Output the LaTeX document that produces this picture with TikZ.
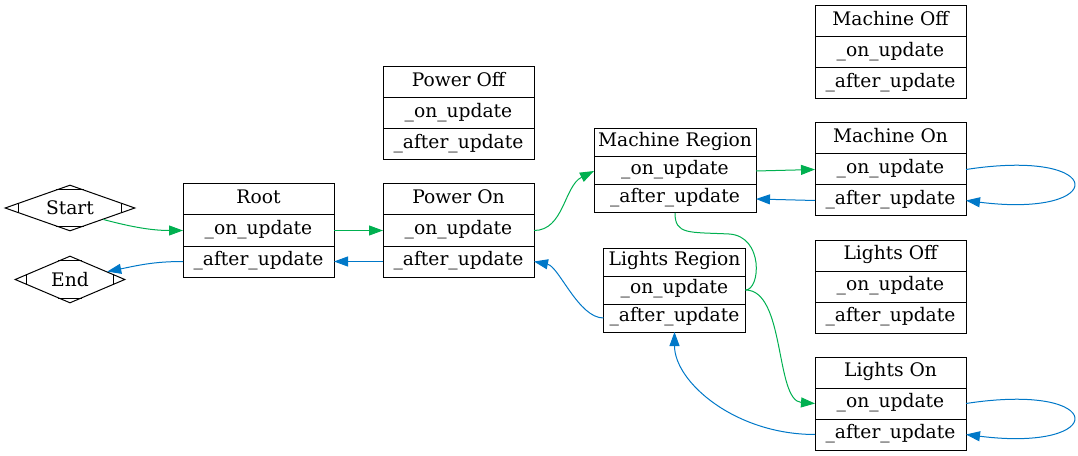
\documentclass[tikz,border=0pt]{standalone}
\usepackage{fontspec}
\setmainfont{DejaVu Serif}
\usetikzlibrary{positioning,calc,shapes.geometric,arrows.meta}
\definecolor{ongreen}{HTML}{00B050}
\definecolor{afterblue}{HTML}{0078C8}

\begin{document}
\begin{tikzpicture}[x=0.75pt, y=-0.75pt,
% Node styles
 cell/.style={draw, line width=0.75pt, font=\fontsize{14pt}{16pt}\selectfont,
 minimum width=113.25pt, minimum height=23.25pt, inner sep=0pt, outer sep=0pt,
 text height=0.75em, text depth=0.22em},
 region/.style={cell, minimum width=121.5pt, minimum height=21pt},
 lregion/.style={cell, minimum width=106.5pt, minimum height=21pt},
 term/.style={draw, diamond, line width=0.75pt, inner sep=0pt,
 font=\fontsize{14pt}{16pt}\selectfont},
% Edge styles
 onedge/.style={draw, ongreen, line width=0.75pt, -{Triangle[length=10.5pt,width=7.5pt]}},
 afteredge/.style={draw, afterblue, line width=0.75pt, -{Triangle[length=10.5pt,width=7.5pt]}}
]
\useasboundingbox (0,0) rectangle (1078,456);
% Start and end
\node[term, shape aspect=2.83, minimum width=97.5pt, minimum height=34.5pt] (start) at (70,208) {Start};
\node[term, shape aspect=2.34, minimum width=82.5pt, minimum height=35.25pt] (end) at (70,279.5) {End};
\foreach \d in {start,end} {
 \draw[line width=0.75pt] ($(\d.west)!0.22!(\d.north)$) -- ($(\d.west)!0.22!(\d.south)$);
 \draw[line width=0.75pt] ($(\d.east)!0.22!(\d.north)$) -- ($(\d.east)!0.22!(\d.south)$);
 \draw[line width=0.75pt] ($(\d.north)!0.22!(\d.west)$) -- ($(\d.north)!0.22!(\d.east)$);
 \draw[line width=0.75pt] ($(\d.south)!0.22!(\d.west)$) -- ($(\d.south)!0.22!(\d.east)$);
}
% Root
\node[cell] (rootT) at (258.5,199.5) {Root};
\node[cell, below=0pt of rootT] (rootOn) {\_on\_update};
\node[cell, below=0pt of rootOn] (rootAft) {\_after\_update};
% Power states
\node[cell] (poffT) at (458.5,82.5) {Power Off};
\node[cell, below=0pt of poffT] (poffOn) {\_on\_update};
\node[cell, below=0pt of poffOn] (poffAft) {\_after\_update};
\node[cell] (ponT) at (458.5,199.5) {Power On};
\node[cell, below=0pt of ponT] (ponOn) {\_on\_update};
\node[cell, below=0pt of ponOn] (ponAft) {\_after\_update};
% Machine region and states
\node[region] (mregT) at (675,143) {Machine Region};
\node[region, below=0pt of mregT] (mregOn) {\_on\_update};
\node[region, below=0pt of mregOn] (mregAft) {\_after\_update};
\node[cell] (moffT) at (890.5,21.5) {Machine Off};
\node[cell, below=0pt of moffT] (moffOn) {\_on\_update};
\node[cell, below=0pt of moffOn] (moffAft) {\_after\_update};
\node[cell] (monT) at (890.5,138.5) {Machine On};
\node[cell, below=0pt of monT] (monOn) {\_on\_update};
\node[cell, below=0pt of monOn] (monAft) {\_after\_update};
% Lights region and states
\node[lregion] (lregT) at (674.5,262) {Lights Region};
\node[lregion, below=0pt of lregT] (lregOn) {\_on\_update};
\node[lregion, below=0pt of lregOn] (lregAft) {\_after\_update};
\node[cell] (loffT) at (890.5,255.5) {Lights Off};
\node[cell, below=0pt of loffT] (loffOn) {\_on\_update};
\node[cell, below=0pt of loffOn] (loffAft) {\_after\_update};
\node[cell] (lonT) at (890.5,372.5) {Lights On};
\node[cell, below=0pt of lonT] (lonOn) {\_on\_update};
\node[cell, below=0pt of lonOn] (lonAft) {\_after\_update};
% Update edges
\draw[onedge] (start.-19) .. controls +(30,8) and +(-30,0) .. (rootOn.west);
\draw[onedge] (rootOn.east) -- (ponOn.west);
\draw[onedge] (ponOn.east) .. controls +(30,0) and +(-30,15) .. (mregOn.west);
\draw[onedge] (mregOn.east) -- (monOn.west);
\draw[onedge, -] (mregAft.south) .. controls +(0,22) and +(-40,-2) .. ++(54,21)
 .. controls +(35,2) and +(15,0) .. (lregOn.east);
\draw[onedge] (lregOn.east) .. controls +(40,0) and +(-40,-3) .. (lonOn.west);
% After update edges
\draw[afteredge] (ponAft.west) -- (rootAft.east);
\draw[afteredge] (rootAft.west) .. controls +(-30,0) and +(30,-6) .. (end.12);
\draw[afteredge] (lregAft.west) .. controls +(-25,0) and +(25,5) .. (ponAft.east);
\draw[afteredge] (monAft.west) -- (mregAft.east);
\draw[afteredge] (lonAft.west) .. controls +(-80,0) and +(0,50) .. (lregAft.south);
% Self loops
\draw[afteredge] (monOn.east) .. controls +(143,-22) and +(143,18) .. (monAft.east);
\draw[afteredge] (lonOn.east) .. controls +(143,-22) and +(143,18) .. (lonAft.east);
\end{tikzpicture}
\end{document}
